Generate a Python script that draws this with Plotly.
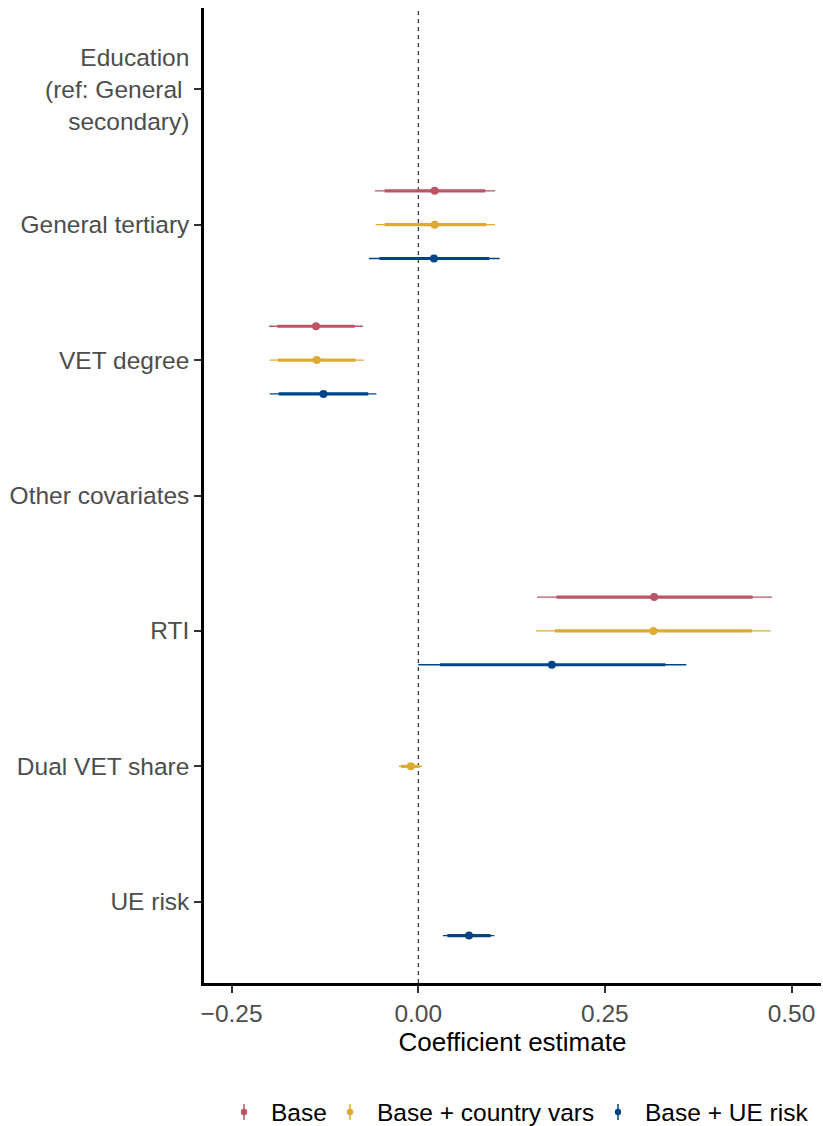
import plotly.graph_objects as go

# Rows of the coefficient plot, top to bottom (headers carry no estimates)
row_labels = [
    "Education<br>(ref: General <br>secondary)",
    "General tertiary",
    "VET degree",
    "Other covariates",
    "RTI",
    "Dual VET share",
    "UE risk",
]
terms = ["General tertiary", "VET degree", "RTI", "Dual VET share", "UE risk"]

models = ["Base", "Base + country vars", "Base + UE risk"]
model_colors = ["#BB5566", "#DDAA33", "#004488"]
model_offsets = [0.25, 0.0, -0.25]

# Point estimates per model, aligned with `terms`
estimate = {
    "Base":                [0.022, -0.137, 0.316, None, None],
    "Base + country vars": [0.022, -0.136, 0.315, -0.010, None],
    "Base + UE risk":      [0.021, -0.127, 0.179, None, 0.068],
}
# Outer (95%) intervals
ci95_low = {
    "Base":                [-0.058, -0.200, 0.159, None, None],
    "Base + country vars": [-0.057, -0.199, 0.158, -0.026, None],
    "Base + UE risk":      [-0.066, -0.199, 0.000, None, 0.033],
}
ci95_high = {
    "Base":                [0.103, -0.074, 0.474, None, None],
    "Base + country vars": [0.103, -0.073, 0.472, 0.005, None],
    "Base + UE risk":      [0.109, -0.056, 0.359, None, 0.102],
}
# Inner (90%) intervals
ci90_low = {
    "Base":                [-0.045, -0.189, 0.185, None, None],
    "Base + country vars": [-0.045, -0.188, 0.183, -0.023, None],
    "Base + UE risk":      [-0.052, -0.187, 0.029, None, 0.039],
}
ci90_high = {
    "Base":                [0.090, -0.085, 0.448, None, None],
    "Base + country vars": [0.091, -0.084, 0.447, 0.002, None],
    "Base + UE risk":      [0.095, -0.067, 0.331, None, 0.097],
}

x_ticks = [-0.25, 0.0, 0.25, 0.50]
x_tick_text = ["\u22120.25", "0.00", "0.25", "0.50"]

FONT = "Liberation Sans, Arial, Helvetica, sans-serif"

# figure geometry (pixels)
W, H = 823, 1126
M_L, M_R, M_T, M_B = 204, 2, 8, 143
PLOT_W = W - M_L - M_R
PLOT_H = H - M_T - M_B

n_rows = len(row_labels)
row_pos = {lab: n_rows - i for i, lab in enumerate(row_labels)}

fig = go.Figure()

for model, color, off in zip(models, model_colors, model_offsets):
    xs95, ys95, xs90, ys90, px, py = [], [], [], [], [], []
    for k, term in enumerate(terms):
        e = estimate[model][k]
        if e is None:
            continue
        y = row_pos[term] + off
        xs95 += [ci95_low[model][k], ci95_high[model][k], None]
        ys95 += [y, y, None]
        xs90 += [ci90_low[model][k], ci90_high[model][k], None]
        ys90 += [y, y, None]
        px.append(e)
        py.append(y)
    fig.add_trace(go.Scatter(x=xs95, y=ys95, mode="lines",
                             line=dict(color=color, width=1.3),
                             showlegend=False, hoverinfo="skip"))
    fig.add_trace(go.Scatter(x=xs90, y=ys90, mode="lines",
                             line=dict(color=color, width=3.2),
                             showlegend=False, hoverinfo="skip"))
    fig.add_trace(go.Scatter(x=px, y=py, mode="markers", name=model,
                             marker=dict(color=color, size=8),
                             showlegend=False))

# reference line at zero
fig.add_shape(type="line", xref="x", yref="paper", x0=0, x1=0, y0=0, y1=1,
              line=dict(color="black", width=1, dash="4px,4px"), layer="below")

# legend below the panel: point-range key glyph + label per model
def px_x(p):
    return (p - M_L) / PLOT_W

def px_y(p):
    return (H - M_B - p) / PLOT_H

legend_key_x = [244, 350, 618]
legend_y = 1112
for model, color, kx in zip(models, model_colors, legend_key_x):
    fig.add_shape(type="line", xref="paper", yref="paper",
                  x0=px_x(kx), x1=px_x(kx), y0=px_y(legend_y - 8), y1=px_y(legend_y + 8),
                  line=dict(color=color, width=1.5))
    fig.add_shape(type="circle", xref="paper", yref="paper",
                  x0=px_x(kx - 3.2), x1=px_x(kx + 3.2),
                  y0=px_y(legend_y - 3.2), y1=px_y(legend_y + 3.2),
                  fillcolor=color, line=dict(color=color, width=0))
    fig.add_annotation(text=model, xref="paper", yref="paper",
                       x=px_x(kx + 25), y=px_y(legend_y), xanchor="left",
                       yanchor="middle", showarrow=False,
                       font=dict(family=FONT, size=24.5, color="black"))

axis_common = dict(
    showline=True, linecolor="black", linewidth=2.5, mirror=False,
    showgrid=False, zeroline=False,
    ticks="outside", ticklen=7, tickwidth=2, tickcolor="#333333",
    tickfont=dict(family=FONT, size=24.5, color="#4D4D4D"),
)

fig.update_xaxes(
    range=[-0.287, 0.5395],
    tickvals=x_ticks, ticktext=x_tick_text,
    title=dict(text="Coefficient estimate", standoff=5,
               font=dict(family=FONT, size=26, color="black")),
    **axis_common,
)
fig.update_yaxes(
    range=[0.4, n_rows + 0.6],
    tickvals=[row_pos[l] for l in row_labels], ticktext=row_labels,
    **axis_common,
)

fig.update_layout(
    width=W, height=H,
    margin=dict(l=M_L, r=M_R, t=M_T, b=M_B, autoexpand=False),
    plot_bgcolor="white", paper_bgcolor="white",
    font=dict(family=FONT),
    showlegend=False,
)

fig.write_html("out.html")
